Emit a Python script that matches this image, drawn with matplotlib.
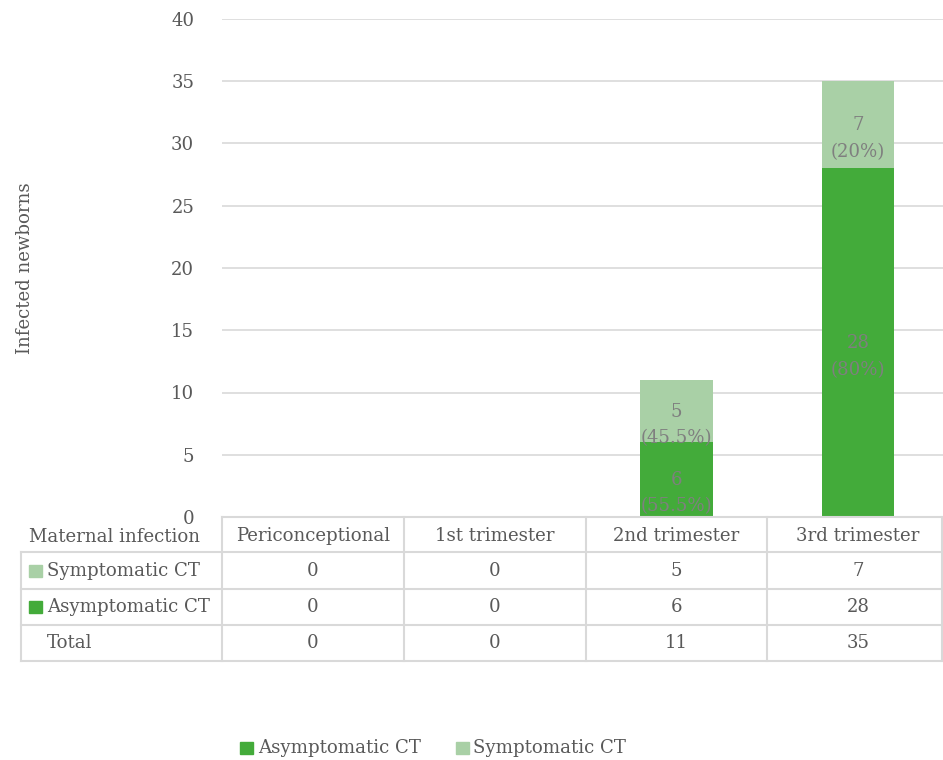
import matplotlib.pyplot as plt
from matplotlib.patches import Rectangle

categories = ['Periconceptional', '1st trimester', '2nd trimester', '3rd trimester']
asymptomatic = [0, 0, 6, 28]
symptomatic = [0, 0, 5, 7]
asym_labels = ['', '', '6\n(55.5%)', '28\n(80%)']
sym_labels = ['', '', '5\n(45.5%)', '7\n(20%)']

dark = '#43ab3a'
light = '#a9d0a6'
txt = '#595959'
gridc = '#d9d9d9'

plt.rcParams['font.family'] = ['DejaVu Serif']
fs = 13.1

W, H = 943, 760
fig = plt.figure(figsize=(W / 100, H / 100), dpi=100)

# bar chart area (plot area runs slightly past the right edge)
x0, x1, ytop, ybot = 222, 949, 19, 517
ax = fig.add_axes([x0 / W, 1 - ybot / H, (x1 - x0) / W, (ybot - ytop) / H])
xs = range(len(categories))
ax.bar(xs, asymptomatic, width=0.4, color=dark, zorder=3)
ax.bar(xs, symptomatic, width=0.4, bottom=asymptomatic, color=light, zorder=3)
for i in xs:
    if asym_labels[i]:
        ax.text(i, asymptomatic[i] / 2 - 1.1, asym_labels[i], ha='center', va='center',
                color='#7f7f7f', fontsize=fs, zorder=4, linespacing=1.6)
    if sym_labels[i]:
        ax.text(i, asymptomatic[i] + symptomatic[i] / 2 - 1.1, sym_labels[i], ha='center',
                va='center', color='#7f7f7f', fontsize=fs, zorder=4, linespacing=1.6)
ax.set_xlim(-0.5, 3.5)
ax.set_ylim(0, 40)
ax.set_yticks(range(0, 41, 5))
ax.set_xticks([])
ax.grid(axis='y', color=gridc, linewidth=1.2, zorder=0)
ax.tick_params(axis='y', length=0, labelcolor=txt, labelsize=fs, pad=20)
for s in ax.spines.values():
    s.set_visible(False)
ax.set_ylabel('Infected newborns', color=txt, fontsize=fs)
ax.yaxis.set_label_coords(-0.258, 0.5)

# data table below
tb = fig.add_axes([0, 0, 1, 1])
tb.set_xlim(0, W)
tb.set_ylim(H, 0)
tb.axis('off')
cols = [222, 404, 586, 767, 949]
rows = [517, 552, 589, 625, 661]
lw = 1.5
tb.plot([cols[0], cols[-1]], [rows[0], rows[0]], color=gridc, lw=lw)
for r in rows[1:]:
    tb.plot([21, cols[-1]], [r, r], color=gridc, lw=lw)
for c in cols[:-1] + [942]:
    tb.plot([c, c], [rows[0], rows[-1]], color=gridc, lw=lw)
tb.plot([21, 21], [rows[1], rows[-1]], color=gridc, lw=lw)

tb.text(29, 537, 'Maternal infection', ha='left', va='center', color=txt, fontsize=fs)
for j, cat in enumerate(categories):
    cx = (cols[j] + cols[j + 1]) / 2
    tb.text(cx, 536, cat, ha='center', va='center', color=txt, fontsize=fs)

totals = [a + s for a, s in zip(asymptomatic, symptomatic)]
table_rows = [('Symptomatic CT', light, symptomatic),
              ('Asymptomatic CT', dark, asymptomatic),
              ('Total', None, totals)]
for k, (name, col, vals) in enumerate(table_rows):
    cy = (rows[k + 1] + rows[k + 2]) / 2
    if col:
        tb.add_patch(Rectangle((29, cy - 6), 13, 12, color=col))
    tb.text(47, cy, name, ha='left', va='center', color=txt, fontsize=fs)
    for j, v in enumerate(vals):
        cx = (cols[j] + cols[j + 1]) / 2
        tb.text(cx, cy, str(v), ha='center', va='center', color=txt, fontsize=fs)

# legend
tb.add_patch(Rectangle((240, 742), 13, 12, color=dark))
tb.text(258, 748, 'Asymptomatic CT', ha='left', va='center', color=txt, fontsize=fs)
tb.add_patch(Rectangle((456, 742), 13, 12, color=light))
tb.text(473, 748, 'Symptomatic CT', ha='left', va='center', color=txt, fontsize=fs)

fig.savefig('out.png', dpi=100)
